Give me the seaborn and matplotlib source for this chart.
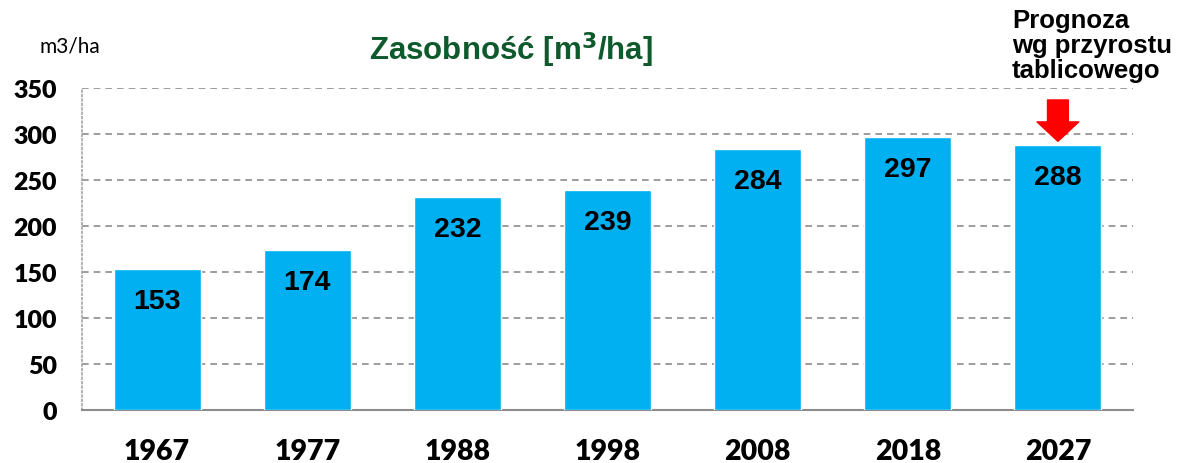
import matplotlib
matplotlib.use("Agg")
import matplotlib.pyplot as plt
import seaborn as sns
import numpy as np
import pandas as pd

# data
years = ["1967", "1977", "1988", "1998", "2008", "2018", "2027"]
stock = [153, 174, 232, 239, 284, 297, 288]
y_ticks = [0, 50, 100, 150, 200, 250, 300, 350]

BAR_BLUE = "#00B0F0"
GRID_GRAY = "#8C8C8C"
TITLE_GREEN = "#0E5A2C"

sns.set_theme(style="white")
plt.rcParams["font.family"] = ["Liberation Sans", "DejaVu Sans"]

df = pd.DataFrame({"Rok": years, "Zasobnosc": stock})

fig = plt.figure(figsize=(11.79, 4.64), dpi=100)
ax = fig.add_axes([82 / 1179, 1 - 411 / 464, 1051 / 1179, 322 / 464])

sns.barplot(data=df, x="Rok", y="Zasobnosc", color=BAR_BLUE, saturation=1,
            width=0.58, ax=ax, zorder=3)

ax.set_xlim(-0.5, len(years) - 0.5)
ax.set_ylim(0, 350)
ax.set_yticks(y_ticks)
ax.set_xlabel("")
ax.set_ylabel("")

# dashed horizontal grid
ax.yaxis.grid(True, linestyle=(0, (4, 3)), color=GRID_GRAY, linewidth=1.2, zorder=0)
ax.xaxis.grid(False)

# spines
for s in ["top", "right"]:
    ax.spines[s].set_visible(False)
ax.spines["left"].set_color("#A6A6A6")
ax.spines["left"].set_linestyle(":")
ax.spines["left"].set_linewidth(1.2)
ax.spines["bottom"].set_color(GRID_GRAY)
ax.spines["bottom"].set_linewidth(1.5)

# tick marks between categories on x axis
ax.set_xticks(np.arange(len(years) + 1) - 0.5, minor=True)
ax.tick_params(axis="x", which="minor", length=8, width=1.5, color=GRID_GRAY, direction="out")
ax.tick_params(axis="x", which="major", length=0, pad=20)
ax.tick_params(axis="y", which="major", length=6, width=1, color="#BFBFBF", pad=12)

for lab in ax.get_xticklabels():
    lab.set_fontfamily(["Lato", "DejaVu Sans"])
    lab.set_fontweight("heavy")
    lab.set_fontsize(20.5)
    lab.set_color("black")
for lab in ax.get_yticklabels():
    lab.set_fontfamily(["Lato", "DejaVu Sans"])
    lab.set_fontweight("heavy")
    lab.set_fontsize(18)
    lab.set_color("black")

# value labels inside bars
for i, v in enumerate(stock):
    ax.text(i, v - 35, str(v), ha="center", va="center", fontsize=20.5,
            fontweight="bold", color="black", zorder=4)

# forecast arrow over the last bar
ax.annotate("", xy=(len(years) - 1, 292), xytext=(len(years) - 1, 337),
            arrowprops=dict(facecolor="#FF0000", edgecolor="#FF0000",
                            width=15, headwidth=30, headlength=14),
            annotation_clip=False, zorder=5)

# titles and notes
fig.text(511 / 1179, 1 - 50 / 464, "Zasobność [m$^{\\mathbf{3}}$/ha]",
         ha="center", va="center", fontsize=22.5, fontweight="bold", color=TITLE_GREEN)
fig.text(70 / 1179, 1 - 47 / 464, "m3/ha", ha="center", va="center",
         fontsize=15, family=["Lato", "DejaVu Sans"], color="black")
fig.text(1012 / 1179, 1 - 9 / 464, "Prognoza\nwg przyrostu\ntablicowego",
         ha="left", va="top", fontsize=18.5, fontweight="bold", color="black",
         linespacing=1.05)

fig.savefig("out.png", dpi=100)
